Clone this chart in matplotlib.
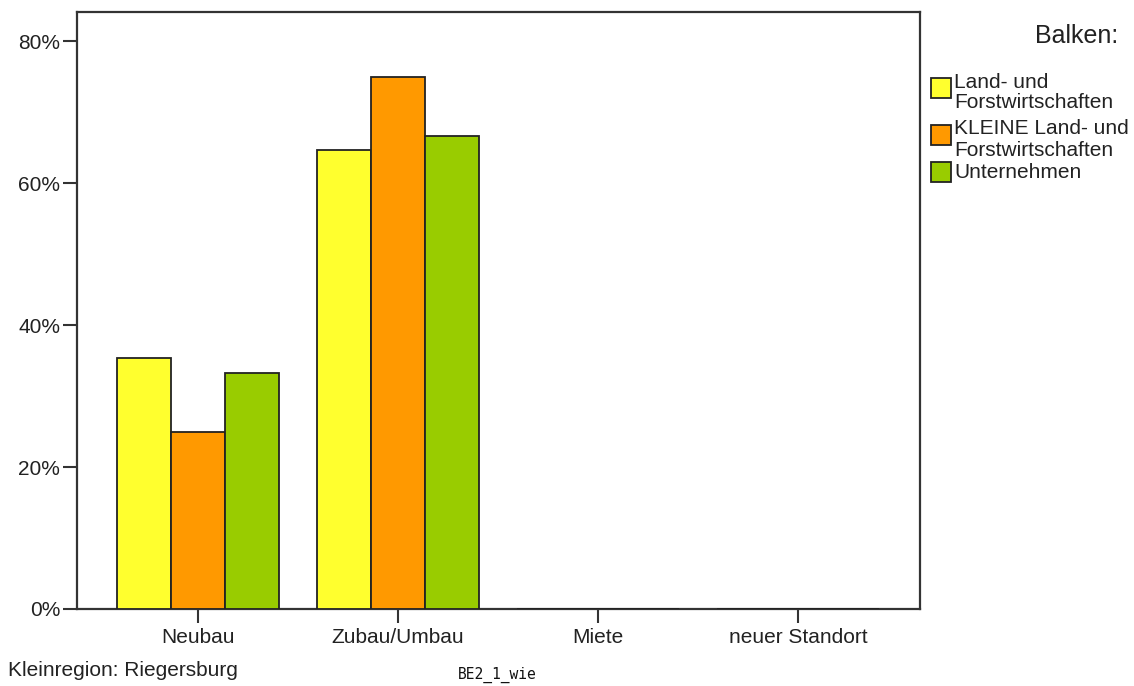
import matplotlib
matplotlib.use("Agg")
import matplotlib.pyplot as plt
from matplotlib.patches import Rectangle
import numpy as np

plt.rcParams['font.family'] = ['Liberation Sans', 'DejaVu Sans']

categories = ["Neubau", "Zubau/Umbau", "Miete", "neuer Standort"]
series_names = ["Land- und\nForstwirtschaften", "KLEINE Land- und\nForstwirtschaften", "Unternehmen"]
land_forst = [35.3, 64.7, 0.0, 0.0]
kleine_land_forst = [25.0, 75.0, 0.0, 0.0]
unternehmen = [33.3, 66.7, 0.0, 0.0]
series_values = [land_forst, kleine_land_forst, unternehmen]
colors = ["#FFFF2E", "#FF9900", "#99CC00"]
yticks = [0, 20, 40, 60, 80]
ytick_labels = ["0%", "20%", "40%", "60%", "80%"]

W, H = 1134, 686
fig = plt.figure(figsize=(W / 100, H / 100), dpi=100)
ax = fig.add_axes([77 / W, 1 - 609 / H, (920 - 77) / W, (609 - 12) / H])

x = np.arange(len(categories))
bw = 0.27
spine_col = "#333333"
for i, (vals, col) in enumerate(zip(series_values, colors)):
    ax.bar(x + (i - 1) * bw, vals, width=bw, color=col, edgecolor="#222222",
           linewidth=1.3, zorder=3)

ax.set_xlim(-0.605, 3.61)
ax.set_ylim(0, 84.1)
ax.set_yticks(yticks)
ax.set_yticklabels(ytick_labels)
ax.set_xticks(x)
ax.set_xticklabels(categories)
for s in ax.spines.values():
    s.set_color(spine_col)
    s.set_linewidth(1.6)
ax.tick_params(axis='y', length=10, width=1.5, color=spine_col, labelsize=15, pad=2,
               labelcolor="#222222")
ax.tick_params(axis='x', length=10, width=1.5, color=spine_col, labelsize=15, pad=4,
               labelcolor="#222222")

# Legend (manual)
fig.text(1118 / W, 1 - 36 / H, "Balken:", ha='right', va='center', fontsize=18, color="#222222")
patch_tops = [78, 125, 162]
label_lines = [[("Land- und", 83), ("Forstwirtschaften", 103)],
               [("KLEINE Land- und", 128), ("Forstwirtschaften", 150)],
               [("Unternehmen", 173)]]
for top, col, lines in zip(patch_tops, colors, label_lines):
    fig.patches.append(Rectangle((931 / W, 1 - (top + 20) / H), 20 / W, 20 / H,
                                 transform=fig.transFigure, facecolor=col,
                                 edgecolor="#222222", linewidth=1.3))
    for txt, yc in lines:
        fig.text(954 / W, 1 - yc / H, txt, ha='left', va='center', fontsize=15, color="#222222")

fig.text(8 / W, 1 - 670 / H, "Kleinregion: Riegersburg", ha='left', va='center',
         fontsize=15, color="#222222")
fig.text(497 / W, 1 - 675 / H, "BE2_1_wie", ha='center', va='center',
         fontsize=10.5, family='DejaVu Sans Mono', color="#111111")

fig.savefig("out.png", dpi=100, facecolor="white")
